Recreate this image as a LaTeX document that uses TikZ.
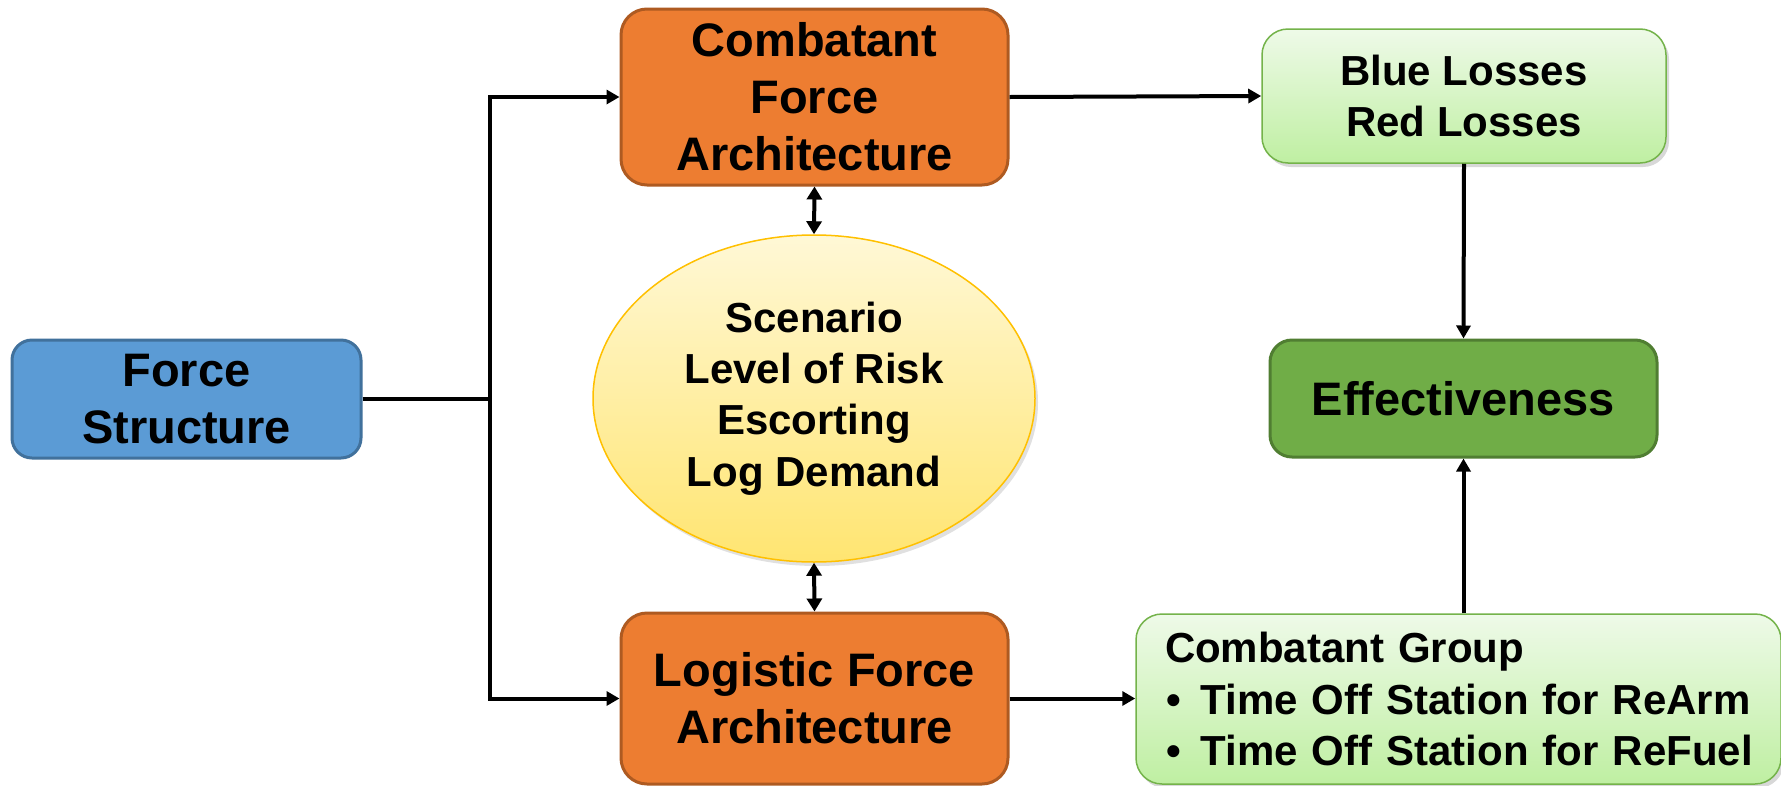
\documentclass[tikz,border=0pt]{standalone}
\usepackage{fontspec}
\setmainfont{Liberation Sans}
\usetikzlibrary{arrows.meta,shapes.geometric,shadows}
\definecolor{fsfill}{HTML}{5B9BD5}
\definecolor{fsdraw}{HTML}{41719C}
\definecolor{orfill}{HTML}{ED7D31}
\definecolor{ordraw}{HTML}{AE5A21}
\definecolor{effill}{HTML}{70AD47}
\definecolor{efdraw}{HTML}{507E32}
\definecolor{lgtop}{HTML}{EEFAE8}
\definecolor{lgbot}{HTML}{BFEFA2}
\definecolor{lgdraw}{HTML}{74B34A}
\definecolor{yetop}{HTML}{FFF8D6}
\definecolor{yebot}{HTML}{FFE571}
\definecolor{yedraw}{HTML}{FFC000}
\begin{document}
\begin{tikzpicture}[x=1pt,y=-1pt,
  every node/.style={font=\bfseries, inner sep=0pt, align=center},
  bigtxt/.style={font=\fontsize{47}{57}\selectfont\bfseries},
  smtxt/.style={font=\fontsize{42}{51.3}\selectfont\bfseries},
  fsbox/.style={rectangle, rounded corners=20pt, line width=3pt, draw=fsdraw, fill=fsfill, bigtxt},
  orbox/.style={rectangle, rounded corners=26pt, line width=3pt, draw=ordraw, fill=orfill, bigtxt},
  efbox/.style={rectangle, rounded corners=22pt, line width=3pt, draw=efdraw, fill=effill, bigtxt},
  lgbox/.style={rectangle, rounded corners=26pt, line width=1.5pt, draw=lgdraw, top color=lgtop, bottom color=lgbot, smtxt,
    drop shadow={shadow xshift=3pt, shadow yshift=-4pt, opacity=0.25, fill=black!60}},
  scell/.style={ellipse, line width=1.5pt, draw=yedraw, top color=yetop, bottom color=yebot, smtxt,
    drop shadow={shadow xshift=3pt, shadow yshift=-4pt, opacity=0.2, fill=black!60}},
  conn/.style={line width=4pt, draw=black},
  arr/.style={conn, -{Triangle[length=13pt,width=14pt]}},
  darr/.style={conn, {Triangle[length=13pt,width=15pt]}-{Triangle[length=13pt,width=15pt]}}
]
\useasboundingbox (0,0) rectangle (1781,785);
\fill[white] (0,0) rectangle (1781,785);

\node[fsbox, minimum width=349pt, minimum height=118pt] (fs) at (186.5,399) {Force\\Structure};
\node[orbox, minimum width=387pt, minimum height=176pt] (cfa) at (814.5,97) {Combatant\\Force\\Architecture};
\node[orbox, minimum width=387pt, minimum height=171pt] (lfa) at (814.5,698.5) {Logistic Force\\Architecture};
\node[scell, minimum width=442pt, minimum height=327pt] (sc) at (814,398.5) {Scenario\\Level of Risk\\Escorting\\Log Demand};
\node[lgbox, minimum width=404pt, minimum height=134pt] (bl) at (1464,96) {Blue Losses\\Red Losses};
\node[efbox, minimum width=387pt, minimum height=117pt] (eff) at (1463.5,398.5) {Effectiveness};
\node[lgbox, minimum width=645pt, minimum height=170pt, align=left, text width=587pt] (cg) at (1458.5,699)
  {\mbox{Combatant Group}\\
   \mbox{\hspace{1pt}•\hspace{20pt}Time Off Station for ReArm}\\
   \mbox{\hspace{1pt}•\hspace{20pt}Time Off Station for ReFuel}};

\coordinate (j) at (490,399);
\draw[conn] (fs.east) -- (j);
\draw[arr] (j) |- (cfa.west);
\draw[arr] (j) |- (lfa.west);
\draw[darr] (cfa.south) -- (sc.north);
\draw[darr] (sc.south) -- (lfa.north);
\draw[arr] (cfa.east) -- (bl.west);
\draw[arr] (lfa.east) -- (lfa.east -| cg.west);
\draw[arr] (bl.south) -- (eff.north);
\draw[arr] (eff.south |- cg.north) -- (eff.south);
\end{tikzpicture}
\end{document}
